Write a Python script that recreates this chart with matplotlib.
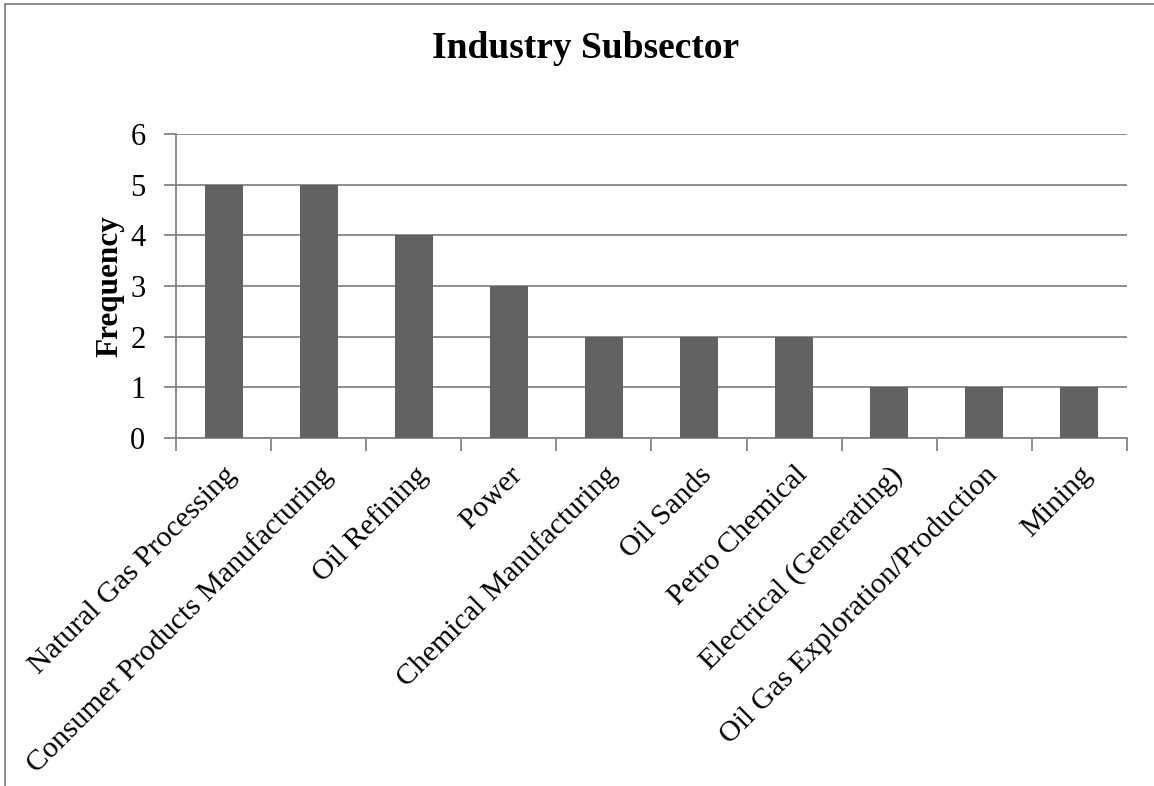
import matplotlib
matplotlib.use("Agg")
import matplotlib.pyplot as plt
import numpy as np
from matplotlib.lines import Line2D

subsectors = [
    "Natural Gas Processing",
    "Consumer Products Manufacturing",
    "Oil Refining",
    "Power",
    "Chemical Manufacturing",
    "Oil Sands",
    "Petro Chemical",
    "Electrical (Generating)",
    "Oil Gas Exploration/Production",
    "Mining",
]
frequency = [5, 5, 4, 3, 2, 2, 2, 1, 1, 1]
y_ticks = [0, 1, 2, 3, 4, 5, 6]

plt.rcParams["font.family"] = ["Liberation Serif", "DejaVu Serif"]
grid_color = "#868686"
bar_color = "#626262"

fig = plt.figure(figsize=(11.54, 7.86), dpi=100)
ax = fig.add_axes([0.1525, 0.4427, 0.8241, 0.3868])

x = np.arange(len(subsectors))
ax.bar(x, frequency, width=0.4, color=bar_color, zorder=3)

ax.set_xlim(-0.5, len(subsectors) - 0.5)
ax.set_ylim(0, 6)
ax.set_yticks(y_ticks)
ax.set_yticklabels([str(v) for v in y_ticks], fontsize=22)
ax.yaxis.grid(True, color=grid_color, linewidth=1.3, zorder=0)
ax.tick_params(axis="y", length=9, width=1.3, color=grid_color, pad=13)

ax.set_xticks(x)
ax.set_xticklabels(subsectors, fontsize=21.5, rotation=45, ha="right",
                   va="top", rotation_mode="anchor")
ax.tick_params(axis="x", which="major", length=0, pad=17)
ax.set_xticks(np.arange(-0.5, len(subsectors)), minor=True)
ax.tick_params(axis="x", which="minor", length=9, width=1.3, color=grid_color)

for side in ("top", "right"):
    ax.spines[side].set_visible(False)
for side in ("left", "bottom"):
    ax.spines[side].set_color(grid_color)
    ax.spines[side].set_linewidth(1.3)

ax.set_ylabel("Frequency", fontsize=22.5, fontweight="bold")
ax.yaxis.set_label_coords(-0.054, 0.5)
fig.text(0.507, 0.938, "Industry Subsector", fontsize=27, fontweight="bold",
         ha="center", va="center")

# chart frame lines along the top and left edges
fig.add_artist(Line2D([0.0045, 1.0], [0.9945, 0.9945], color=grid_color,
                      linewidth=1.3, transform=fig.transFigure))
fig.add_artist(Line2D([0.0045, 0.0045], [0.0, 0.9945], color=grid_color,
                      linewidth=1.3, transform=fig.transFigure))

fig.savefig("out.png", dpi=100)
